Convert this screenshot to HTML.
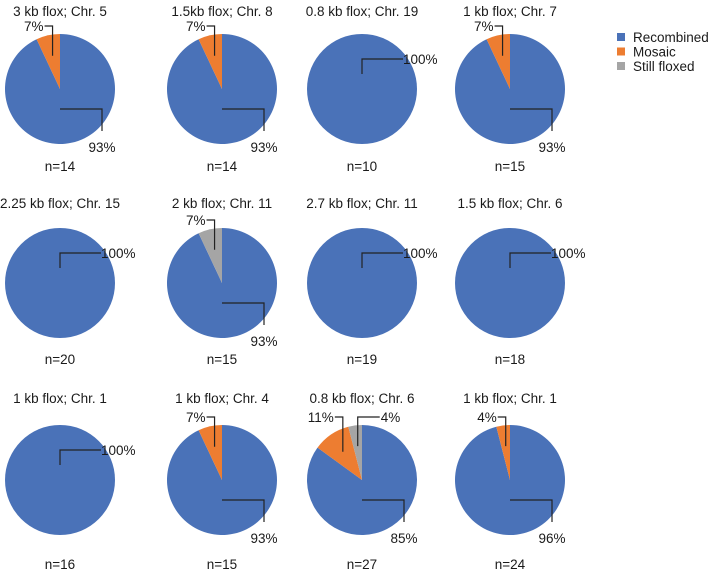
<!DOCTYPE html>
<html><head><meta charset="utf-8"><style>
html,body{margin:0;padding:0;background:#fff;}
svg{display:block;font-family:"Liberation Sans",Arial,sans-serif;}
text{font-size:13.5px;fill:#1a1a1a;}
</style></head><body>
<svg id="chart" width="708" height="569" viewBox="0 0 708 569"></svg>
<script>
const titles = ["3 kb flox; Chr. 5","1.5kb flox; Chr. 8","0.8 kb flox; Chr. 19","1 kb flox; Chr. 7",
  "2.25 kb flox; Chr. 15","2 kb flox; Chr. 11","2.7 kb flox; Chr. 11","1.5 kb flox; Chr. 6",
  "1 kb flox; Chr. 1","1 kb flox; Chr. 4","0.8 kb flox; Chr. 6","1 kb flox; Chr. 1"];
const recombined = [93,93,100,93, 100,93,100,100, 100,93,85,96];
const mosaic     = [7,7,0,7, 0,0,0,0, 0,7,11,4];
const floxed     = [0,0,0,0, 0,7,0,0, 0,0,4,0];
const counts     = [14,14,10,15, 20,15,19,18, 16,15,27,24];
const seriesNames = ["Recombined","Mosaic","Still floxed"];
const colors = ["#4a72b8","#ed7d31","#a5a5a5"];

const NS="http://www.w3.org/2000/svg";
const svg=document.getElementById('chart');
function mk(tag,attrs,parent){const e=document.createElementNS(NS,tag);for(const k in attrs)e.setAttribute(k,attrs[k]);(parent||svg).appendChild(e);return e;}
const colX=[60,222,362,510];
const rowY=[89,283,480];
const rowTitleDy=[-78,-80,-82];
const rowNDy=[77,76,84];
const R=55;
function pt(cx,cy,r,frac){const a=frac*2*Math.PI;return [cx+r*Math.sin(a),cy-r*Math.cos(a)];}

for(let i=0;i<titles.length;i++){
  const col=i%4,row=Math.floor(i/4);
  const cx=colX[col],cy=rowY[row];
  const g=mk('g',{});
  
  
  const t=mk('text',{x:cx,y:cy+rowTitleDy[row]+5,'text-anchor':'middle'},g);
  t.textContent=titles[i];
  
  
  const vals=[recombined[i],mosaic[i],floxed[i]];
  const tot=vals[0]+vals[1]+vals[2];
  let start=0;
  const smallIdx=[];
  vals.forEach((v,s)=>{
    if(v<=0)return;
    const f=v/tot;
    let el;
    if(f>=0.9999){
      el=mk('circle',{cx:cx,cy:cy,r:R,fill:colors[s]},g);
    }else{
      const [x1,y1]=pt(cx,cy,R,start),[x2,y2]=pt(cx,cy,R,start+f);
      el=mk('path',{d:`M${cx},${cy}L${x1},${y1}A${R},${R} 0 ${f>0.5?1:0} 1 ${x2},${y2}Z`,fill:colors[s]},g);
    }
    
    
    if(s>0)smallIdx.push([s,start+f/2,v]);
    start+=f;
  });
  const ln={stroke:'#222','stroke-width':1.2,fill:'none'};
  if(vals[0]>=100){
    mk('polyline',Object.assign({points:`${cx},${cy-15} ${cx},${cy-30} ${cx+41},${cy-30}`},ln),g);
    const l=mk('text',{x:cx+41,y:cy-25},g);l.textContent=vals[0]+'%';
    
    
  }else{
    mk('polyline',Object.assign({points:`${cx},${cy+20} ${cx+42},${cy+20} ${cx+42},${cy+42}`},ln),g);
    const l=mk('text',{x:cx+42,y:cy+63,'text-anchor':'middle'},g);l.textContent=vals[0]+'%';
    
    
  }
  smallIdx.forEach(([s,mid,v])=>{
    const [ax,ay]=pt(cx,cy,R*0.62,mid);
    const ty=cy-63;
    const right=(s===2&&smallIdx.length>1);
    let hx=right?ax+22:ax-8;
    mk('polyline',Object.assign({points:`${ax},${ay} ${ax},${ty} ${hx},${ty}`},ln),g);
    const l=mk('text',{x:right?hx+1:hx-1,y:ty+5,'text-anchor':right?'start':'end'},g);
    l.textContent=v+'%';
    
    
  });
  const n=mk('text',{x:cx,y:cy+rowNDy[row]+5,'text-anchor':'middle'},g);
  n.textContent='n='+counts[i];
  
  
}
const lg=mk('g',{});


seriesNames.forEach((nm,k)=>{
  const y=37+k*14.5;
  const r=mk('rect',{x:617,y:y-4,width:8,height:8,fill:colors[k]},lg);
  
  
  const t=mk('text',{x:633,y:y+5},lg);t.textContent=nm;
  
  
});
</script>
</body></html>
